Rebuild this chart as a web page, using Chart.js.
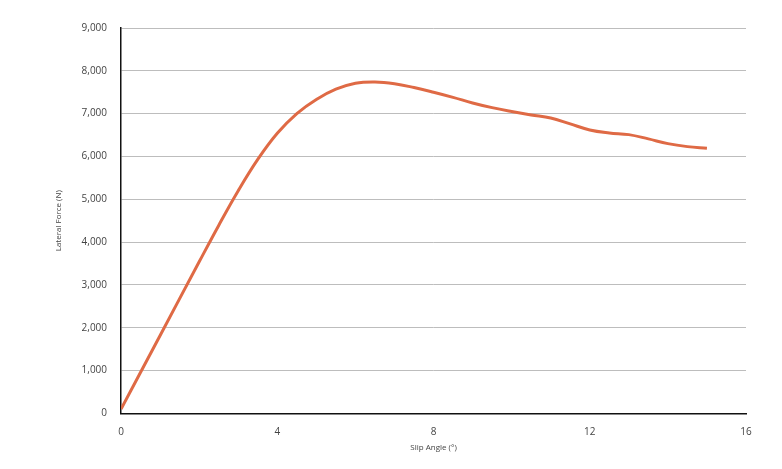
<!DOCTYPE html>
<html>
<head>
<meta charset="utf-8">
<script src="https://cdn.jsdelivr.net/npm/chart.js@4/dist/chart.umd.min.js"></script>
<style>
  html, body { margin: 0; padding: 0; background: #fff; }
  #wrap { width: 782px; height: 469px; position: relative; }
</style>
</head>
<body>
<div id="wrap"><canvas id="chart"></canvas></div>
<script>
// slip angle (deg) and lateral force (N)
const slipAngle = [0, 1, 2, 2.5, 3, 3.5, 4, 4.5, 5, 5.5, 6, 6.5, 7, 7.5, 8, 8.5, 9, 9.5, 10, 10.5, 11, 11.5, 12, 12.5, 13, 13.5, 14, 14.5, 15]
const lateralForce = [100, 1820, 3540, 4390, 5200, 5930, 6540, 7000, 7330, 7570, 7710, 7740, 7700, 7610, 7500, 7380, 7250, 7140, 7050, 6970, 6900, 6760, 6620, 6550, 6510, 6410, 6300, 6230, 6190]
const xTicks = [0, 4, 8, 12, 16]
const yTicks = [0, 1000, 2000, 3000, 4000, 5000, 6000, 7000, 8000, 9000]

const points = slipAngle.map((x, i) => ({ x: x, y: lateralForce[i] }))

const ctx = document.getElementById('chart').getContext('2d')
new Chart(ctx, {
  type: 'line',
  data: {
    datasets: [{
      label: 'Lateral Force',
      data: points,
      borderColor: '#df6a45',
      backgroundColor: 'transparent',
      borderWidth: 3,
      pointRadius: 0,
      tension: 0.4
    }]
  },
  options: {
    responsive: true,
    maintainAspectRatio: false,
    animation: false,
    layout: { padding: { left: 54, right: 36, top: 28, bottom: 16 } },
    plugins: {
      legend: { display: false },
      tooltip: { enabled: false }
    },
    scales: {
      x: {
        type: 'linear',
        min: 0,
        max: 16,
        afterBuildTicks: axis => { axis.ticks = xTicks.map(v => ({ value: v })) },
        grid: { display: false, drawTicks: false },
        border: { display: true, color: '#111', width: 1.5 },
        ticks: { color: '#444', padding: 13, font: { family: 'Open Sans', size: 10 } },
        title: {
          display: true,
          text: 'Slip Angle (°)',
          color: '#444',
          padding: { top: -8, bottom: 0 },
          font: { family: 'Open Sans', size: 8 }
        }
      },
      y: {
        min: 0,
        max: 9000,
        afterBuildTicks: axis => { axis.ticks = yTicks.map(v => ({ value: v })) },
        grid: { color: '#bdbdbd', lineWidth: 1, drawTicks: false },
        border: { display: true, color: '#111', width: 1.5 },
        ticks: {
          color: '#444',
          padding: 14,
          font: { family: 'Open Sans', size: 10 },
          callback: v => v.toLocaleString('en-US')
        },
        title: {
          display: true,
          text: 'Lateral Force (N)',
          color: '#444',
          padding: { top: 0, bottom: 4 },
          font: { family: 'Open Sans', size: 8 }
        }
      }
    }
  }
})
</script>
</body>
</html>
